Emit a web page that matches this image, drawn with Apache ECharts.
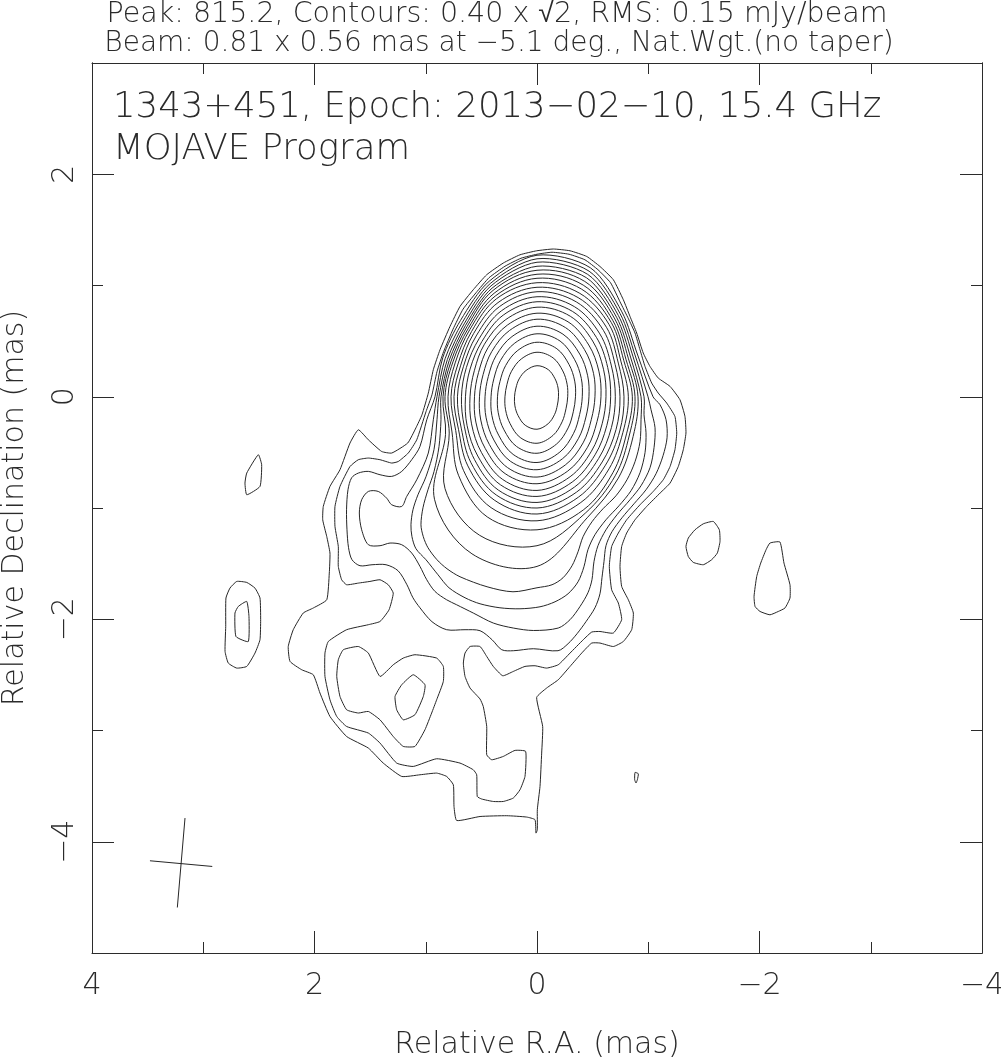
<!DOCTYPE html>
<html><head><meta charset="utf-8">
<script src="https://cdn.jsdelivr.net/npm/echarts@6/dist/echarts.min.js"></script>
<style>html,body{margin:0;padding:0;background:#fff}#c{width:1001px;height:1058px}</style>
</head><body><div id="c"></div>
<script>
// ---------- tick values ----------
const Y_MAJOR = [-4, -2, 0, 2];
const Y_MINOR = [-3, -1, 1];

// ---------- texts ----------
const HEAD_1 = 'Peak: 815.2, Contours: 0.40 x \u221A2, RMS: 0.15 mJy/beam';
const HEAD_2 = 'Beam: 0.81 x 0.56 mas at \u22125.1 deg., Nat.Wgt.(no taper)';
const LABEL_1 = '1343+451, Epoch: 2013\u221202\u221210, 15.4 GHz';
const LABEL_2 = 'MOJAVE Program';

// ---------- irregular contours, [RA mas, Dec mas] ----------
const LEVEL1 = [[-0.147,1.328],[0.003,1.312],[0.153,1.276],[0.303,1.202],[0.452,1.097],[0.573,0.962],[0.692,0.812],[0.782,0.632],[0.872,0.422],[0.932,0.243],[0.977,0.033],[1.034,-0.162],[1.088,-0.279],[1.162,-0.416],[1.306,-0.506],[1.396,-0.492],[1.516,-0.387],[1.606,-0.297],[1.681,-0.416],[1.771,-0.656],[1.861,-0.806],[1.921,-0.986],[1.926,-1.106],[1.890,-1.256],[1.861,-1.405],[1.867,-1.585],[1.890,-1.825],[2.011,-1.899],[2.101,-1.944],[2.191,-2.094],[2.236,-2.245],[2.220,-2.379],[2.115,-2.454],[2.011,-2.499],[1.951,-2.663],[1.861,-2.874],[1.711,-3.054],[1.516,-3.158],[1.382,-3.293],[1.216,-3.413],[1.052,-3.398],[0.902,-3.383],[0.812,-3.413],[0.752,-3.488],[0.746,-3.683],[0.722,-3.809],[0.512,-3.773],[0.272,-3.766],[0.093,-3.778],[0.018,-3.802],[0.009,-3.922],[-0.003,-3.892],[-0.003,-3.712],[-0.027,-3.503],[-0.042,-3.203],[-0.051,-2.964],[0.003,-2.703],[-0.087,-2.618],[-0.191,-2.544],[-0.297,-2.424],[-0.402,-2.304],[-0.492,-2.214],[-0.566,-2.214],[-0.686,-2.245],[-0.776,-2.200],[-0.851,-2.094],[-0.866,-1.944],[-0.821,-1.825],[-0.761,-1.705],[-0.746,-1.525],[-0.761,-1.346],[-0.806,-1.225],[-0.881,-1.106],[-0.986,-0.986],[-1.106,-0.866],[-1.196,-0.776],[-1.270,-0.627],[-1.315,-0.476],[-1.339,-0.326],[-1.330,-0.177],[-1.285,-0.027],[-1.196,0.093],[-1.090,0.168],[-1.016,0.272],[-0.955,0.393],[-0.896,0.573],[-0.836,0.722],[-0.776,0.872],[-0.686,1.052],[-0.566,1.171],[-0.447,1.261],[-0.297,1.312]];

const LEVEL2 = [[-0.135,1.299],[0,1.281],[0.144,1.245],[0.288,1.173],[0.431,1.070],[0.548,0.935],[0.665,0.787],[0.755,0.607],[0.840,0.404],[0.899,0.225],[0.944,0.018],[0.998,-0.135],[1.081,-0.387],[1.157,-0.506],[1.247,-0.582],[1.306,-0.596],[1.411,-0.566],[1.516,-0.551],[1.606,-0.566],[1.681,-0.627],[1.771,-0.806],[1.816,-0.986],[1.816,-1.166],[1.786,-1.346],[1.786,-1.525],[1.756,-1.645],[1.711,-1.690],[1.606,-1.675],[1.501,-1.660],[1.411,-1.645],[1.337,-1.690],[1.292,-1.765],[1.330,-1.915],[1.411,-2.020],[1.516,-2.049],[1.711,-2.094],[1.876,-2.200],[1.906,-2.304],[1.906,-2.514],[1.861,-2.724],[1.800,-2.874],[1.711,-2.964],[1.516,-3.023],[1.411,-3.113],[1.261,-3.293],[1.112,-3.323],[0.902,-3.254],[0.692,-3.293],[0.573,-3.353],[0.542,-3.398],[0.537,-3.593],[0.497,-3.616],[0.393,-3.638],[0.303,-3.638],[0.213,-3.607],[0.153,-3.533],[0.108,-3.413],[0.102,-3.188],[0.198,-3.179],[0.303,-3.233],[0.407,-3.263],[0.452,-3.218],[0.452,-2.964],[0.483,-2.784],[0.512,-2.717],[0.602,-2.618],[0.647,-2.514],[0.662,-2.394],[0.647,-2.304],[0.602,-2.245],[0.512,-2.245],[0.452,-2.334],[0.393,-2.424],[0.308,-2.508],[0.213,-2.469],[0.108,-2.424],[0.018,-2.418],[-0.087,-2.439],[-0.191,-2.409],[-0.297,-2.304],[-0.416,-2.184],[-0.492,-2.115],[-0.566,-2.110],[-0.686,-2.124],[-0.761,-2.004],[-0.731,-1.854],[-0.671,-1.735],[-0.650,-1.525],[-0.671,-1.346],[-0.731,-1.225],[-0.806,-1.106],[-0.926,-0.971],[-1.045,-0.851],[-1.135,-0.746],[-1.196,-0.627],[-1.240,-0.476],[-1.256,-0.326],[-1.240,-0.177],[-1.166,-0.057],[-1.090,0.033],[-1.031,0.123],[-0.971,0.272],[-0.926,0.422],[-0.881,0.573],[-0.822,0.701],[-0.746,0.854],[-0.661,1.025],[-0.548,1.142],[-0.431,1.231],[-0.288,1.281]];

const LEVEL3 = [[-1.043,0],[-0.905,0.375],[-0.763,0.763],[-0.480,1.159],[0,1.272],[0.430,1.038],[0.687,0.687],[0.847,0.351],[0.917,0],[0.991,-0.207],[1.052,-0.447],[1.126,-0.566],[1.216,-0.671],[1.306,-0.716],[1.411,-0.701],[1.516,-0.671],[1.606,-0.686],[1.666,-0.728],[1.699,-0.836],[1.712,-1.016],[1.708,-1.196],[1.694,-1.357],[1.663,-1.465],[1.591,-1.519],[1.483,-1.510],[1.357,-1.510],[1.249,-1.564],[1.169,-1.690],[1.115,-1.807],[1.052,-1.897],[0.944,-2.022],[0.812,-2.094],[0.647,-2.094],[0.512,-2.103],[0.404,-2.184],[0.317,-2.274],[0.213,-2.283],[0.033,-2.265],[-0.189,-2.283],[-0.279,-2.220],[-0.360,-2.130],[-0.440,-2.022],[-0.521,-1.897],[-0.566,-1.771],[-0.584,-1.627],[-0.602,-1.483],[-0.620,-1.339],[-0.674,-1.213],[-0.764,-1.088],[-0.872,-0.962],[-0.980,-0.836],[-1.070,-0.692],[-1.133,-0.530],[-1.169,-0.369],[-1.160,-0.207],[-1.106,-0.072]];

const LEVEL4 = [[-0.998,0],[-0.884,0.366],[-0.747,0.747],[-0.468,1.129],[0,1.240],[0.421,1.017],[0.670,0.670],[0.826,0.342],[0.899,0],[0.932,-0.207],[0.977,-0.506],[1.081,-0.746],[1.171,-0.896],[1.216,-0.986],[1.306,-0.971],[1.351,-0.912],[1.427,-0.851],[1.516,-0.851],[1.576,-0.926],[1.597,-1.045],[1.576,-1.196],[1.516,-1.330],[1.411,-1.339],[1.321,-1.315],[1.216,-1.330],[1.126,-1.405],[1.052,-1.525],[0.991,-1.645],[0.917,-1.750],[0.812,-1.825],[0.722,-1.870],[0.573,-1.944],[0.393,-2.034],[0.213,-2.079],[0.033,-2.101],[-0.191,-2.079],[-0.297,-2.004],[-0.387,-1.885],[-0.458,-1.762],[-0.494,-1.645],[-0.512,-1.483],[-0.548,-1.339],[-0.620,-1.196],[-0.719,-1.061],[-0.836,-0.926],[-0.935,-0.800],[-1.016,-0.638],[-1.052,-0.458],[-1.061,-0.279],[-1.025,-0.117]];

const LEVEL5 = [[-0.962,0],[-0.864,0.358],[-0.731,0.731],[-0.456,1.100],[0,1.209],[0.413,0.997],[0.655,0.655],[0.806,0.334],[0.881,0],[0.899,-0.207],[0.926,-0.476],[0.998,-0.719],[1.070,-0.881],[1.115,-1.016],[1.133,-1.151],[1.124,-1.258],[1.088,-1.366],[0.998,-1.465],[0.890,-1.600],[0.791,-1.717],[0.647,-1.807],[0.512,-1.861],[0.333,-1.897],[0.153,-1.906],[-0.027,-1.888],[-0.162,-1.843],[-0.279,-1.771],[-0.369,-1.663],[-0.422,-1.528],[-0.458,-1.375],[-0.521,-1.240],[-0.620,-1.106],[-0.737,-0.980],[-0.845,-0.845],[-0.926,-0.683],[-0.971,-0.503],[-0.980,-0.324],[-0.962,-0.162]];

const LEVEL6 = [[-0.935,0],[-0.843,0.349],[-0.715,0.715],[-0.444,1.070],[0,1.173],[0.404,0.976],[0.642,0.642],[0.789,0.327],[0.863,0],[0.863,-0.207],[0.881,-0.449],[0.926,-0.674],[0.980,-0.836],[1.025,-0.998],[1.043,-1.151],[1.022,-1.258],[0.980,-1.357],[0.899,-1.465],[0.809,-1.546],[0.692,-1.618],[0.449,-1.708],[0.216,-1.753],[0,-1.717],[-0.135,-1.690],[-0.234,-1.627],[-0.315,-1.519],[-0.369,-1.393],[-0.414,-1.258],[-0.494,-1.124],[-0.593,-1.007],[-0.710,-0.890],[-0.809,-0.746],[-0.881,-0.584],[-0.926,-0.404],[-0.935,-0.207]];

const BLOB_L3 = [[1.741,-2.274],[1.606,-2.245],[1.516,-2.304],[1.411,-2.514],[1.292,-2.409],[1.202,-2.349],[1.097,-2.319],[0.902,-2.349],[0.842,-2.424],[0.842,-2.559],[0.902,-2.724],[0.947,-2.843],[1.007,-2.993],[1.097,-3.143],[1.202,-3.143],[1.292,-3.054],[1.411,-2.904],[1.516,-2.829],[1.606,-2.843],[1.711,-2.814],[1.771,-2.694],[1.800,-2.514],[1.786,-2.364]];
const BLOB_L4 = [[1.216,-2.589],[1.112,-2.499],[1.007,-2.589],[1.022,-2.694],[1.097,-2.858],[1.202,-2.904],[1.261,-2.814],[1.276,-2.694]];

// ---------- isolated islands ----------
const ISLAND_A = [[2.505,-0.521],[2.475,-0.611],[2.490,-0.806],[2.609,-0.881],[2.625,-0.776],[2.609,-0.686]];
const ISLAND_B_OUT = [[2.699,-1.660],[2.609,-1.669],[2.535,-1.720],[2.490,-1.809],[2.484,-2.004],[2.490,-2.184],[2.535,-2.304],[2.609,-2.424],[2.699,-2.439],[2.775,-2.394],[2.804,-2.289],[2.798,-2.065],[2.796,-1.809],[2.760,-1.720]];
const ISLAND_B_IN = [[2.609,-1.840],[2.589,-1.975],[2.595,-2.200],[2.706,-2.155],[2.715,-1.944],[2.685,-1.885]];
const ISLAND_C = [[-1.585,-1.121],[-1.639,-1.196],[-1.645,-1.301],[-1.621,-1.405],[-1.570,-1.465],[-1.495,-1.510],[-1.405,-1.489],[-1.360,-1.436],[-1.339,-1.346],[-1.360,-1.270],[-1.420,-1.196],[-1.495,-1.142]];
const ISLAND_D = [[-2.094,-1.315],[-2.184,-1.306],[-2.220,-1.495],[-2.274,-1.690],[-2.274,-1.809],[-2.229,-1.899],[-2.169,-1.930],[-2.094,-1.960],[-2.005,-1.930],[-1.960,-1.885],[-1.951,-1.795],[-1.975,-1.615],[-2.011,-1.495],[-2.059,-1.375]];
const ISLAND_E = [[-0.881,-3.377],[-0.911,-3.389],[-0.902,-3.443],[-0.890,-3.472],[-0.878,-3.443]];

// ---------- nested core contours (levels 7..22): radius in mas along fixed ray directions ----------
const RAY_ANGLES_DEG = [0, 22.5, 45, 67.5, 90, 112.5, 135, 157.5, 180, 202.5, 225, 247.5, 270, 292.5, 315, 337.5];
const CORE_RADII = [
  [0.908,0.890,0.989,1.122,1.137,1.034,0.890,0.836,0.845,0.890,1.303,1.528,1.525,1.178,1.034,0.935],
  [0.881,0.867,0.966,1.086,1.101,1.007,0.872,0.818,0.827,0.854,1.169,1.348,1.339,1.133,0.998,0.899],
  [0.857,0.845,0.944,1.047,1.065,0.980,0.854,0.796,0.800,0.827,0.998,1.169,1.196,1.098,0.965,0.871],
  [0.821,0.818,0.917,1.006,1.025,0.953,0.831,0.769,0.773,0.791,0.935,1.079,1.115,1.029,0.916,0.836],
  [0.782,0.791,0.883,0.965,0.984,0.916,0.805,0.742,0.746,0.764,0.879,1.005,1.054,0.976,0.870,0.805],
  [0.746,0.760,0.844,0.923,0.944,0.878,0.773,0.715,0.715,0.737,0.839,0.956,1.000,0.928,0.829,0.769],
  [0.704,0.724,0.799,0.877,0.899,0.836,0.737,0.687,0.679,0.706,0.796,0.908,0.950,0.879,0.784,0.724],
  [0.662,0.688,0.755,0.831,0.854,0.794,0.701,0.651,0.643,0.680,0.753,0.857,0.896,0.829,0.738,0.679],
  [0.620,0.647,0.708,0.783,0.805,0.747,0.668,0.610,0.602,0.637,0.707,0.805,0.842,0.778,0.692,0.634],
  [0.575,0.602,0.658,0.729,0.751,0.697,0.623,0.569,0.562,0.595,0.658,0.748,0.782,0.723,0.642,0.584],
  [0.521,0.550,0.602,0.672,0.697,0.645,0.575,0.524,0.517,0.547,0.606,0.690,0.722,0.664,0.586,0.529],
  [0.467,0.493,0.543,0.609,0.634,0.586,0.521,0.474,0.467,0.495,0.549,0.627,0.656,0.602,0.528,0.476],
  [0.407,0.431,0.476,0.542,0.566,0.522,0.463,0.420,0.413,0.439,0.488,0.561,0.591,0.538,0.465,0.415],
  [0.346,0.367,0.408,0.467,0.490,0.451,0.398,0.360,0.355,0.377,0.420,0.483,0.508,0.460,0.396,0.353],
  [0.276,0.293,0.328,0.378,0.400,0.368,0.324,0.292,0.288,0.306,0.342,0.396,0.418,0.376,0.319,0.282],
  [0.193,0.205,0.229,0.264,0.279,0.256,0.227,0.205,0.202,0.215,0.240,0.277,0.292,0.262,0.224,0.198]
];

// ---------- restoring beam cross (end points, mas) ----------
const BEAM_MAJOR = [[3.164,-3.787],[3.233,-4.591]];
const BEAM_MINOR = [[3.479,-4.171],[2.919,-4.222]];

// ---------- build shapes ----------
const shapes = [];
[LEVEL1, LEVEL2, BLOB_L3, BLOB_L4, ISLAND_A, ISLAND_B_OUT, ISLAND_B_IN, ISLAND_C, ISLAND_D, ISLAND_E]
  .forEach(p => shapes.push({ pts: p, closed: true, smooth: 0.15 }));
[LEVEL3, LEVEL4, LEVEL5, LEVEL6].forEach(p => shapes.push({ pts: p, closed: true, smooth: 0.3 }));
CORE_RADII.forEach(r => {
  const pts = RAY_ANGLES_DEG.map((a, i) => {
    const t = a * Math.PI / 180;
    return [-r[i] * Math.cos(t), r[i] * Math.sin(t)];
  });
  shapes.push({ pts: pts, closed: true, smooth: 0.35 });
});
shapes.push({ pts: BEAM_MAJOR, closed: false, smooth: 0 });
shapes.push({ pts: BEAM_MINOR, closed: false, smooth: 0 });

const FONT = "'DejaVu Sans', 'Liberation Sans', sans-serif";
const INK = '#2b2b2b';
const fmt = v => (v < 0 ? '\u2212' + Math.abs(v) : String(v));
const labelFont = { fontSize: 30, fontFamily: FONT, fontWeight: 200, color: INK };

const chart = echarts.init(document.getElementById('c'), null, { renderer: 'canvas' });
const baseY = (pos, len, values, withLabel) => ({
  type: 'value', position: pos, min: -5, max: 3, interval: 1,
  axisLine: { show: true, onZero: false, lineStyle: { color: INK, width: 1 } },
  axisTick: { show: true, inside: true, length: len, customValues: values, lineStyle: { color: INK, width: 1 } },
  axisLabel: withLabel ? Object.assign({ show: true, customValues: values, rotate: 90, margin: 12, formatter: fmt }, labelFont) : { show: false },
  splitLine: { show: false }
});
const yAxes = [
  Object.assign(baseY('left', 22, Y_MAJOR, true), { name: 'Relative Declination (mas)', nameLocation: 'middle', nameGap: 62, nameTextStyle: labelFont }),
  baseY('left', 11, Y_MINOR, false),
  baseY('right', 22, Y_MAJOR, false),
  baseY('right', 11, Y_MINOR, false)
];
const baseX = (pos, withLabel) => ({
  type: 'value', position: pos, min: -4, max: 4, interval: 2, inverse: true,
  axisLine: { show: true, onZero: false, lineStyle: { color: INK, width: 1 } },
  axisTick: { show: true, inside: true, length: 22, lineStyle: { color: INK, width: 1 } },
  minorTick: { show: true, splitNumber: 2, length: 11, lineStyle: { color: INK, width: 1 } },
  axisLabel: withLabel ? Object.assign({ show: true, margin: 18, formatter: fmt }, labelFont) : { show: false },
  splitLine: { show: false }, minorSplitLine: { show: false }
});
const xAxes = [
  Object.assign(baseX('bottom', true), { name: 'Relative R.A. (mas)', nameLocation: 'middle', nameGap: 77, nameTextStyle: labelFont }),
  baseX('top', false)
];

chart.setOption({
  animation: false,
  backgroundColor: '#ffffff',
  grid: { left: 92, right: 19, top: 63, bottom: 105, containLabel: false, outerBoundsMode: 'none' },
  xAxis: xAxes,
  yAxis: yAxes,
  graphic: { elements: [
    { type: 'text', style: { text: HEAD_1, x: 497, y: 15, align: 'center', verticalAlign: 'middle', fontSize: 28.5, fontFamily: FONT, fontWeight: 200, fill: INK } },
    { type: 'text', style: { text: HEAD_2, x: 499, y: 44, align: 'center', verticalAlign: 'middle', fontSize: 28, fontFamily: FONT, fontWeight: 200, fill: INK } },
    { type: 'text', style: { text: LABEL_1, x: 113, y: 108, align: 'left', verticalAlign: 'middle', fontSize: 35.5, fontFamily: FONT, fontWeight: 200, fill: INK } },
    { type: 'text', style: { text: LABEL_2, x: 113, y: 150, align: 'left', verticalAlign: 'middle', fontSize: 35.5, fontFamily: FONT, fontWeight: 200, fill: INK } }
  ] },
  series: [{
    type: 'custom',
    coordinateSystem: 'cartesian2d',
    xAxisIndex: 0, yAxisIndex: 0,
    clip: true,
    silent: true,
    data: shapes.map((s, i) => [s.pts[0][0], s.pts[0][1], i]),
    encode: { x: 0, y: 1 },
    renderItem: function (params, api) {
      const s = shapes[params.dataIndex];
      const pts = s.pts.map(p => api.coord(p));
      return {
        type: s.closed ? 'polygon' : 'polyline',
        shape: { points: pts, smooth: s.smooth },
        style: { fill: 'none', stroke: '#262626', lineWidth: 1 }
      };
    }
  }]
});
</script>
</body></html>
